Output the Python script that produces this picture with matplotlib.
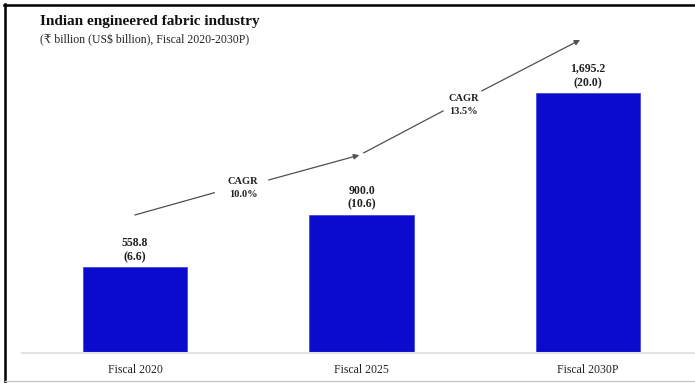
import matplotlib
matplotlib.use("Agg")
import matplotlib.pyplot as plt
from matplotlib.lines import Line2D

plt.rcParams['font.family'] = ['Liberation Serif', 'DejaVu Serif', 'DejaVu Sans']

# Data
categories = ["Fiscal 2020", "Fiscal 2025", "Fiscal 2030P"]
inr_billion = [558.8, 900.0, 1695.2]
usd_billion = [6.6, 10.6, 20.0]
cagr_labels = ["CAGR\n10.0%", "CAGR\n13.5%"]

title = "Indian engineered fabric industry"
subtitle = "(\u20b9 billion (US$ billion), Fiscal 2020-2030P)"

W, H = 695, 383
fig = plt.figure(figsize=(W / 100, H / 100), dpi=100)
ax = fig.add_axes([22 / W, 30 / H, 672 / W, 333 / H])

x = list(range(len(categories)))
ax.bar(x, inr_billion, width=0.46, color="#0B0BCE", edgecolor="#3A3AE0", linewidth=0.5, zorder=2)

ax.set_xlim(-0.499, 2.468)
ax.set_ylim(0, 2171)

for i, (v, u) in enumerate(zip(inr_billion, usd_billion)):
    ax.annotate(f"{v:,.1f}\n({u:.1f})", xy=(i, v), xytext=(0, 3), textcoords="offset points",
                ha="center", va="bottom", fontsize=8.5, fontweight="bold", color="#222222",
                linespacing=1.25)

ax.set_xticks(x)
ax.set_xticklabels(categories, fontsize=8.5, color="#222222")
ax.tick_params(axis="x", length=0, pad=8)
ax.set_yticks([])
for s in ["top", "right", "left"]:
    ax.spines[s].set_visible(False)
ax.spines["bottom"].set_color("#E3E3E3")
ax.spines["bottom"].set_linewidth(1.5)

# CAGR arrows (annotation positions in data units)
arrow_col = "#505050"
segs = [
    ((0.0, 900), (0.35, 1045), (0.59, 1128), (0.99, 1290), (0.477, 1075)),
    ((1.01, 1305), (1.36, 1578), (1.53, 1708), (1.965, 2041), (1.45, 1615)),
]
for (s0, g0, g1, e1, lab), txt in zip(segs, cagr_labels):
    ax.plot([s0[0], g0[0]], [s0[1], g0[1]], color=arrow_col, lw=0.9, clip_on=False)
    ax.annotate("", xy=e1, xytext=g1,
                arrowprops=dict(arrowstyle="-|>", color=arrow_col, lw=0.9,
                                mutation_scale=8, shrinkA=0, shrinkB=0),
                annotation_clip=False)
    ax.text(lab[0], lab[1], txt, ha="center", va="center", fontsize=7.5,
            fontweight="bold", color="#222222", linespacing=1.55)

# Titles
fig.text(40 / W, 1 - 21 / H, title, fontsize=11, fontweight="bold", color="#111111",
         ha="left", va="center")
fig.text(40 / W, 1 - 40 / H, subtitle, fontsize=8.5, color="#222222",
         ha="left", va="center")

# Frame decorations
fig.add_artist(Line2D([4 / W, 1], [1 - 5 / H, 1 - 5 / H], transform=fig.transFigure,
                      color="black", lw=1.8))
fig.add_artist(Line2D([5 / W, 5 / W], [0, 1 - 4 / H], transform=fig.transFigure,
                      color="black", lw=1.8))
fig.add_artist(Line2D([5 / W, 1], [2 / H, 2 / H], transform=fig.transFigure,
                      color="#C8C8C8", lw=1.0))

fig.savefig("out.png", dpi=100)
